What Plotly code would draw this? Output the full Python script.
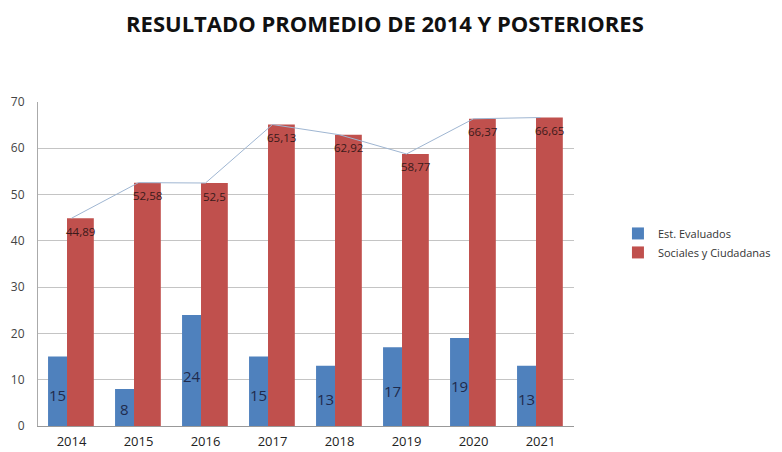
import plotly.graph_objects as go

# Data
YEARS = ["2014", "2015", "2016", "2017", "2018", "2019", "2020", "2021"]
EVALUADOS = [15, 8, 24, 15, 13, 17, 19, 13]
SOCIALES = [44.89, 52.58, 52.5, 65.13, 62.92, 58.77, 66.37, 66.65]
SOCIALES_LABELS = ["44,89", "52,58", "52,5", "65,13", "62,92", "58,77", "66,37", "66,65"]

# Colours
BLUE = "#4f81bd"
RED = "#c0504d"
LINE = "#9fb6d2"
GRID = "#c4c4c4"

X = list(range(len(YEARS)))
BLUE_OFF, BLUE_W = -0.35, 0.285
RED_OFF, RED_W = -0.067, 0.40

fig = go.Figure()

# thin line behind the bars (only visible between them)
fig.add_trace(go.Scatter(
    x=X, y=SOCIALES, mode="lines",
    line=dict(color=LINE, width=1),
    showlegend=False, hoverinfo="skip",
))
fig.add_trace(go.Bar(
    x=X, y=EVALUADOS, name="Est. Evaluados",
    marker=dict(color=BLUE, line=dict(width=0)),
    offset=BLUE_OFF, width=BLUE_W,
))
fig.add_trace(go.Bar(
    x=X, y=SOCIALES, name="Sociales y Ciudadanas",
    marker=dict(color=RED, line=dict(width=0)),
    offset=RED_OFF, width=RED_W,
))

# value labels
for i, (e, s, lab) in enumerate(zip(EVALUADOS, SOCIALES, SOCIALES_LABELS)):
    fig.add_annotation(
        x=i + BLUE_OFF + BLUE_W / 2, y=e * 0.45, text=str(e), showarrow=False,
        font=dict(family="Open Sans", size=15, color="#1f2b4d"),
    )
    fig.add_annotation(
        x=i + RED_OFF + RED_W / 2, y=s, yshift=-13, text=lab, showarrow=False,
        font=dict(family="Open Sans", size=11.5, color="#3a1a1a"),
    )

# page body has an 8px margin, so the figure is 8px smaller each way
fig.update_layout(
    width=774, height=444,
    margin=dict(l=30, r=208, t=94, b=26, autoexpand=False),
    plot_bgcolor="white", paper_bgcolor="white",
    barmode="overlay",
    title=dict(
        text="<b>RESULTADO PROMEDIO DE 2014 Y POSTERIORES</b>",
        x=0.487, xanchor="center", y=0.964, yanchor="middle",
        font=dict(family="Open Sans", size=22, color="#111"),
    ),
    font=dict(family="Open Sans", color="#333"),
    xaxis=dict(
        range=[-0.5, 7.5], tickmode="array", tickvals=X, ticktext=YEARS,
        showgrid=False, zeroline=False, showline=True, linecolor="#999",
        tickfont=dict(size=13, color="#222"), ticks="", ticklabelstandoff=3,
    ),
    yaxis=dict(
        range=[0, 70], dtick=10, showgrid=True, gridcolor=GRID,
        zeroline=False, showline=True, linecolor="#aaa",
        tickfont=dict(size=12, color="#444"), ticks="", ticklabelstandoff=10,
    ),
    legend=dict(
        x=1.082, y=0.565, xanchor="left", yanchor="middle",
        font=dict(size=11, color="#333"), itemwidth=30,
        tracegroupgap=2,
    ),
)

fig.write_html("out.html")
